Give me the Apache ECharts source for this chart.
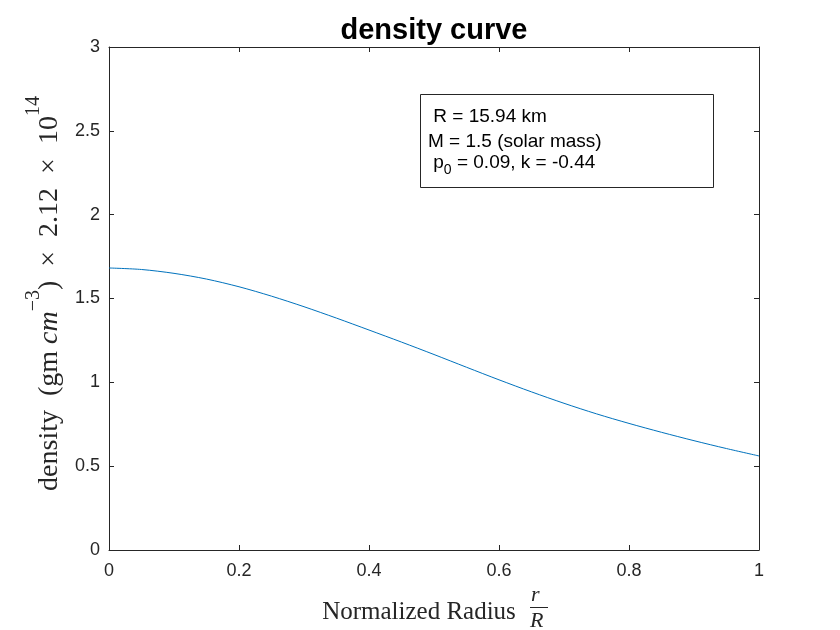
<!DOCTYPE html>
<html><head><meta charset="utf-8">
<script src="https://cdn.jsdelivr.net/npm/echarts@6/dist/echarts.min.js"></script>
<style>html,body{margin:0;padding:0;background:#fff}#c{width:840px;height:630px}</style>
</head><body><div id="c"></div>
<script>
// ---- data ----
const radius  = [0, 0.05, 0.1, 0.15, 0.2, 0.25, 0.3, 0.35, 0.4, 0.45, 0.5, 0.55, 0.6, 0.65, 0.7, 0.75, 0.8, 0.85, 0.9, 0.95, 1];
const density = [1.682, 1.673, 1.650, 1.616, 1.570, 1.514, 1.451, 1.383, 1.312, 1.240, 1.166, 1.090, 1.015, 0.943, 0.875, 0.812, 0.755, 0.702, 0.652, 0.605, 0.561];
const xTicks = [0, 0.2, 0.4, 0.6, 0.8, 1];
const yTicks = [0, 0.5, 1, 1.5, 2, 2.5, 3];
const titleText = 'density curve';
const xLabelText = 'Normalized Radius';
const fracTop = 'r', fracBottom = 'R';
const infoLines = [' R = 15.94 km', 'M = 1.5 (solar mass)', ' p', '0', ' = 0.09, k = -0.44'];

const axisColor = '#262626';
const serif = 'Liberation Serif';
const sans = 'Liberation Sans';

const chart = echarts.init(document.getElementById('c'), null, {renderer: 'canvas'});
const points = radius.map((r, i) => [r, density[i]]);

const baseX = {
  type: 'value', min: xTicks[0], max: xTicks[xTicks.length - 1], interval: 0.2,
  axisLine: {show: true, onZero: false, lineStyle: {color: axisColor, width: 1}},
  axisTick: {show: true, inside: true, length: 5, lineStyle: {color: axisColor}},
  splitLine: {show: false}
};
const baseY = {
  type: 'value', min: yTicks[0], max: yTicks[yTicks.length - 1], interval: 0.5,
  axisLine: {show: true, onZero: false, lineStyle: {color: axisColor, width: 1}},
  axisTick: {show: true, inside: true, length: 5, lineStyle: {color: axisColor}},
  splitLine: {show: false}
};

chart.setOption({
  animation: false,
  backgroundColor: '#ffffff',
  title: {
    text: titleText, left: 429, top: 11, textAlign: 'center',
    textStyle: {fontFamily: sans, fontSize: 29, fontWeight: 'bold', color: '#000'}
  },
  grid: {left: 109, right: 81, top: 47, bottom: 80, containLabel: false, outerBoundsMode: 'none'},
  xAxis: [
    Object.assign({}, baseX, {
      position: 'bottom',
      axisLabel: {show: true, margin: 12, fontFamily: sans, fontSize: 18, color: axisColor},
      name: '{t|' + xLabelText + '}{g|}',
      nameLocation: 'middle', nameGap: 50,
      nameTextStyle: {
        rich: {
          t: {fontFamily: serif, fontSize: 25, color: axisColor},
          g: {width: 30}
        }
      }
    }),
    Object.assign({}, baseX, {position: 'top', axisLabel: {show: false}})
  ],
  yAxis: [
    Object.assign({}, baseY, {
      position: 'left',
      axisLabel: {show: true, margin: 9, fontFamily: sans, fontSize: 18, color: axisColor},
      name: '{g|}{n|density  (gm }{i|cm}{s|\u22123}{n|)  \u00d7  2.12  \u00d7  10}{s|14}',
      nameLocation: 'middle', nameRotate: 90, nameGap: 44,
      nameTextStyle: {
        rich: {
          g: {width: 10},
          n: {fontFamily: serif, fontSize: 28, lineHeight: 40, verticalAlign: 'bottom', color: axisColor},
          i: {fontFamily: serif, fontSize: 28, lineHeight: 40, verticalAlign: 'bottom', fontStyle: 'italic', color: axisColor},
          s: {fontFamily: serif, fontSize: 20, lineHeight: 20, verticalAlign: 'top', color: axisColor}
        }
      }
    }),
    Object.assign({}, baseY, {position: 'right', axisLabel: {show: false}})
  ],
  series: [{
    type: 'line', xAxisIndex: 0, yAxisIndex: 0,
    data: points, showSymbol: false, smooth: 0.3,
    lineStyle: {color: '#0072BD', width: 1}
  }],
  graphic: [
    {type: 'text', left: 531, top: 584, style: {text: fracTop, font: 'italic 22px "Liberation Serif"', fill: axisColor}},
    {type: 'line', shape: {x1: 530, y1: 607.5, x2: 548, y2: 607.5}, style: {stroke: axisColor, lineWidth: 1}},
    {type: 'text', left: 530, top: 610, style: {text: fracBottom, font: 'italic 22px "Liberation Serif"', fill: axisColor}},
    {type: 'rect', shape: {x: 420.5, y: 94.5, width: 293, height: 93}, style: {fill: '#fff', stroke: axisColor, lineWidth: 1}},
    {type: 'text', x: 428, y: 116.5, style: {text: infoLines[0], fontFamily: sans, fontSize: 19, fill: '#000', verticalAlign: 'middle'}},
    {type: 'text', x: 428, y: 141.5, style: {text: infoLines[1], fontFamily: sans, fontSize: 19, fill: '#000', verticalAlign: 'middle'}},
    {type: 'text', x: 428, y: 165.5, style: {
      text: '{n|' + infoLines[2] + '}{s|' + infoLines[3] + '}{n|' + infoLines[4] + '}',
      verticalAlign: 'middle',
      rich: {
        n: {fontFamily: sans, fontSize: 19, lineHeight: 24, verticalAlign: 'top', fill: '#000'},
        s: {fontFamily: sans, fontSize: 14, lineHeight: 14, verticalAlign: 'bottom', fill: '#000'}
      }
    }}
  ]
});
</script>
</body></html>
